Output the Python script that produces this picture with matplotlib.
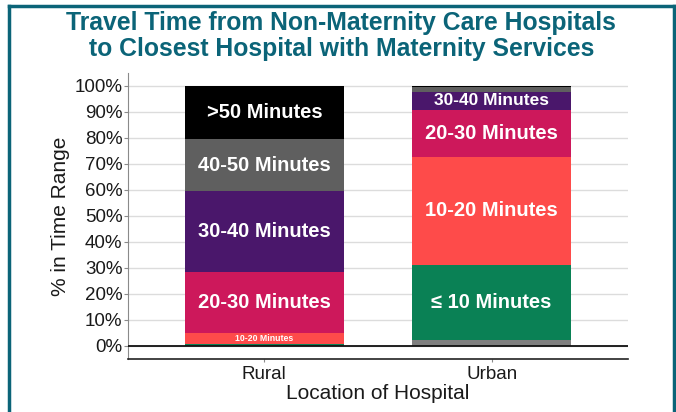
import numpy as np
import matplotlib
matplotlib.use("Agg")
import matplotlib.pyplot as plt
from matplotlib.ticker import PercentFormatter
from matplotlib.lines import Line2D

plt.rcParams['font.family'] = ['Liberation Sans', 'DejaVu Sans']

# data (percent of hospitals)
locations = ["Rural", "Urban"]
seg_names = ["Other", "≤ 10 Minutes", "10-20 Minutes", "20-30 Minutes",
             "30-40 Minutes", "40-50 Minutes", ">50 Minutes"]
other = [0.0, 2.3]
under_10 = [0.9, 28.9]
m10_20 = [4.1, 41.6]
m20_30 = [23.3, 18.0]
m30_40 = [31.4, 6.9]
m40_50 = [19.8, 1.8]
over_50 = [20.5, 0.5]

seg_values = [other, under_10, m10_20, m20_30, m30_40, m40_50, over_50]
seg_colors = ["#7f7f7f", "#0a8155", "#fe4b4a", "#cd185b",
              "#4a176b", "#5f5f5f", "#000000"]

teal = "#0b6478"

fig = plt.figure(figsize=(6.76, 4.12), dpi=100)
ax = fig.add_axes([128/676, 1-359/412, 500/676, (359-73)/412])

x = np.arange(len(locations))
bottom = np.zeros(len(locations))
for name, vals, col in zip(seg_names, seg_values, seg_colors):
    vals = np.array(vals)
    ax.bar(x, vals, 0.7, bottom=bottom, color=col, linewidth=0, zorder=2)
    for i in range(len(x)):
        v = vals[i]
        if name == "Other":
            continue
        if v >= 10:
            fs = 14.5
        elif v >= 5:
            fs = 12.5
        elif v >= 3:
            fs = 6.3
        else:
            continue
        ax.text(x[i], bottom[i] + v/2, name, ha='center', va='center',
                color='white', fontweight='bold', fontsize=fs, zorder=3)
    bottom = bottom + vals

ax.axhline(0, color='#111111', lw=1.3, zorder=4)

ax.set_xlim(-0.6, 1.6)
ax.set_ylim(-5, 105)
ax.set_yticks(range(0, 101, 10))
ax.yaxis.set_major_formatter(PercentFormatter(decimals=0))
ax.set_xticks(x)
ax.set_xticklabels(locations)
ax.yaxis.grid(True, color='#dcdcdc', lw=1)
ax.set_axisbelow(True)

for s in ['top', 'right']:
    ax.spines[s].set_visible(False)
ax.spines['left'].set_color('#8a8a8a')
ax.spines['bottom'].set_color('#222222')
ax.spines['bottom'].set_linewidth(1.2)
ax.tick_params(axis='y', length=3, color='#8a8a8a', labelsize=13.5, pad=1,
               labelcolor='#1a1a1a')
ax.tick_params(axis='x', length=2, color='#8a8a8a', labelsize=13.5, pad=3,
               labelcolor='#1a1a1a')

ax.set_xlabel("Location of Hospital", fontsize=15, color='#1a1a1a', labelpad=1)
ax.set_ylabel("% in Time Range", fontsize=15, color='#1a1a1a', labelpad=3)

fig.text(0.505, 1-11/412, "Travel Time from Non-Maternity Care Hospitals\n"
         "to Closest Hospital with Maternity Services",
         ha='center', va='top', fontsize=17.8, fontweight='bold',
         color=teal, linespacing=1.1)

# teal frame round the figure
fig.add_artist(Line2D([9/676, 9/676], [0, 1-6/412], color=teal, lw=2.5,
                      transform=fig.transFigure))
fig.add_artist(Line2D([9/676, 674/676], [1-6/412, 1-6/412], color=teal, lw=2.5,
                      transform=fig.transFigure))
fig.add_artist(Line2D([674/676, 674/676], [0, 1-6/412], color=teal, lw=2.5,
                      transform=fig.transFigure))

fig.savefig("out.png", dpi=100)
